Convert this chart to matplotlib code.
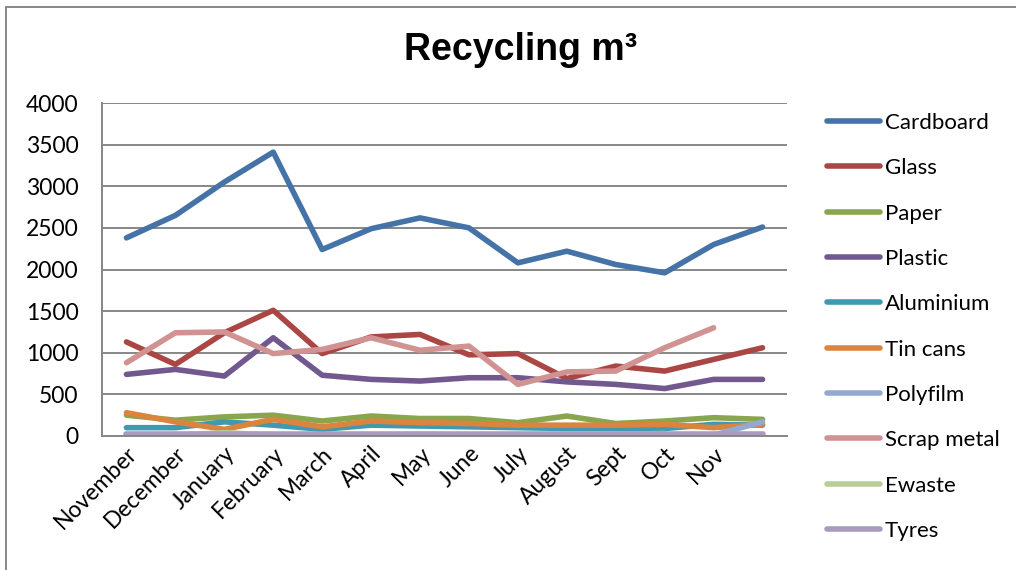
import matplotlib
matplotlib.use("Agg")
import matplotlib.pyplot as plt
from matplotlib.patches import Rectangle
import numpy as np

months = ["November", "December", "January", "February", "March", "April", "May",
          "June", "July", "August", "Sept", "Oct", "Nov", ""]

cardboard = [2380, 2650, 3050, 3410, 2240, 2490, 2620, 2500, 2080, 2220, 2060, 1960, 2300, 2510]
glass = [1130, 860, 1240, 1510, 990, 1190, 1220, 975, 990, 690, 840, 780, 920, 1060]
paper = [250, 190, 230, 250, 180, 240, 210, 210, 160, 240, 150, 180, 220, 200]
plastic = [740, 800, 720, 1180, 730, 680, 660, 700, 700, 650, 620, 570, 680, 680]
aluminium = [100, 100, 170, 130, 80, 130, 120, 110, 100, 90, 90, 90, 140, 130]
tin_cans = [280, 170, 80, 200, 110, 180, 160, 150, 130, 130, 130, 140, 100, 140]
polyfilm = [5, 5, 5, 5, 5, 5, 5, 5, 5, 5, 5, 5, 10, 170]
scrap_metal = [880, 1240, 1250, 990, 1040, 1180, 1030, 1080, 620, 770, 780, 1060, 1300, None]
ewaste = [10, 10, 40, 10, 10, 10, 20, 10, 10, 10, 20, 30, None, None]
tyres = [20, 20, 20, 20, 20, 20, 20, 20, 20, 20, 20, 20, 20, 20]

series = [
    ("Cardboard", cardboard, "#4572A7"),
    ("Glass", glass, "#AA4643"),
    ("Paper", paper, "#89A54E"),
    ("Plastic", plastic, "#71588F"),
    ("Aluminium", aluminium, "#4198AF"),
    ("Tin cans", tin_cans, "#DB843D"),
    ("Polyfilm", polyfilm, "#93A9CF"),
    ("Scrap metal", scrap_metal, "#D19392"),
    ("Ewaste", ewaste, "#B9CD96"),
    ("Tyres", tyres, "#A99BBD"),
]

plt.rcParams['font.family'] = ['Lato', 'DejaVu Sans']

fig = plt.figure(figsize=(10.16, 5.70), dpi=100)
ax = fig.add_axes([102/1016, 1-436/570, (787-102)/1016, (436-103)/570])

x = np.arange(len(months))
for name, vals, col in series:
    y = np.array([np.nan if v is None else v for v in vals], dtype=float)
    ax.plot(x, y, color=col, lw=4.0, label=name, solid_capstyle='round',
            solid_joinstyle='round')

ax.set_xlim(-0.5, len(months)-0.5)
ax.set_ylim(0, 4000)
ax.set_yticks(np.arange(0, 4001, 500))
ax.yaxis.grid(True, color="#878787", lw=1.4)
ax.set_axisbelow(True)
for s in ["top", "right"]:
    ax.spines[s].set_visible(False)
for s in ["left", "bottom"]:
    ax.spines[s].set_color("#878787")
    ax.spines[s].set_linewidth(1.4)
ax.tick_params(axis='y', length=0, pad=17, labelsize=16.5)
ax.tick_params(axis='x', length=0, pad=5, labelsize=16.5)
ax.set_xticks(x)
ax.set_xticklabels(months, rotation=45, ha='right', rotation_mode='anchor')

fig.text(521/1016, 1-50/570, "Recycling m³", ha='center', va='center',
         fontsize=27, fontweight='bold', family='Liberation Sans')

leg = fig.legend(loc='upper left', bbox_to_anchor=(818/1016, 1-104/570),
                 frameon=False, fontsize=16, handlelength=2.4, handletextpad=0.2,
                 labelspacing=1.14, borderaxespad=0)

fig.add_artist(Rectangle((6/1016, -0.05), 1.2, 1-7/570+0.05, transform=fig.transFigure,
                         fill=False, edgecolor="#878787", lw=1.4))

fig.savefig("out.png", dpi=100)
